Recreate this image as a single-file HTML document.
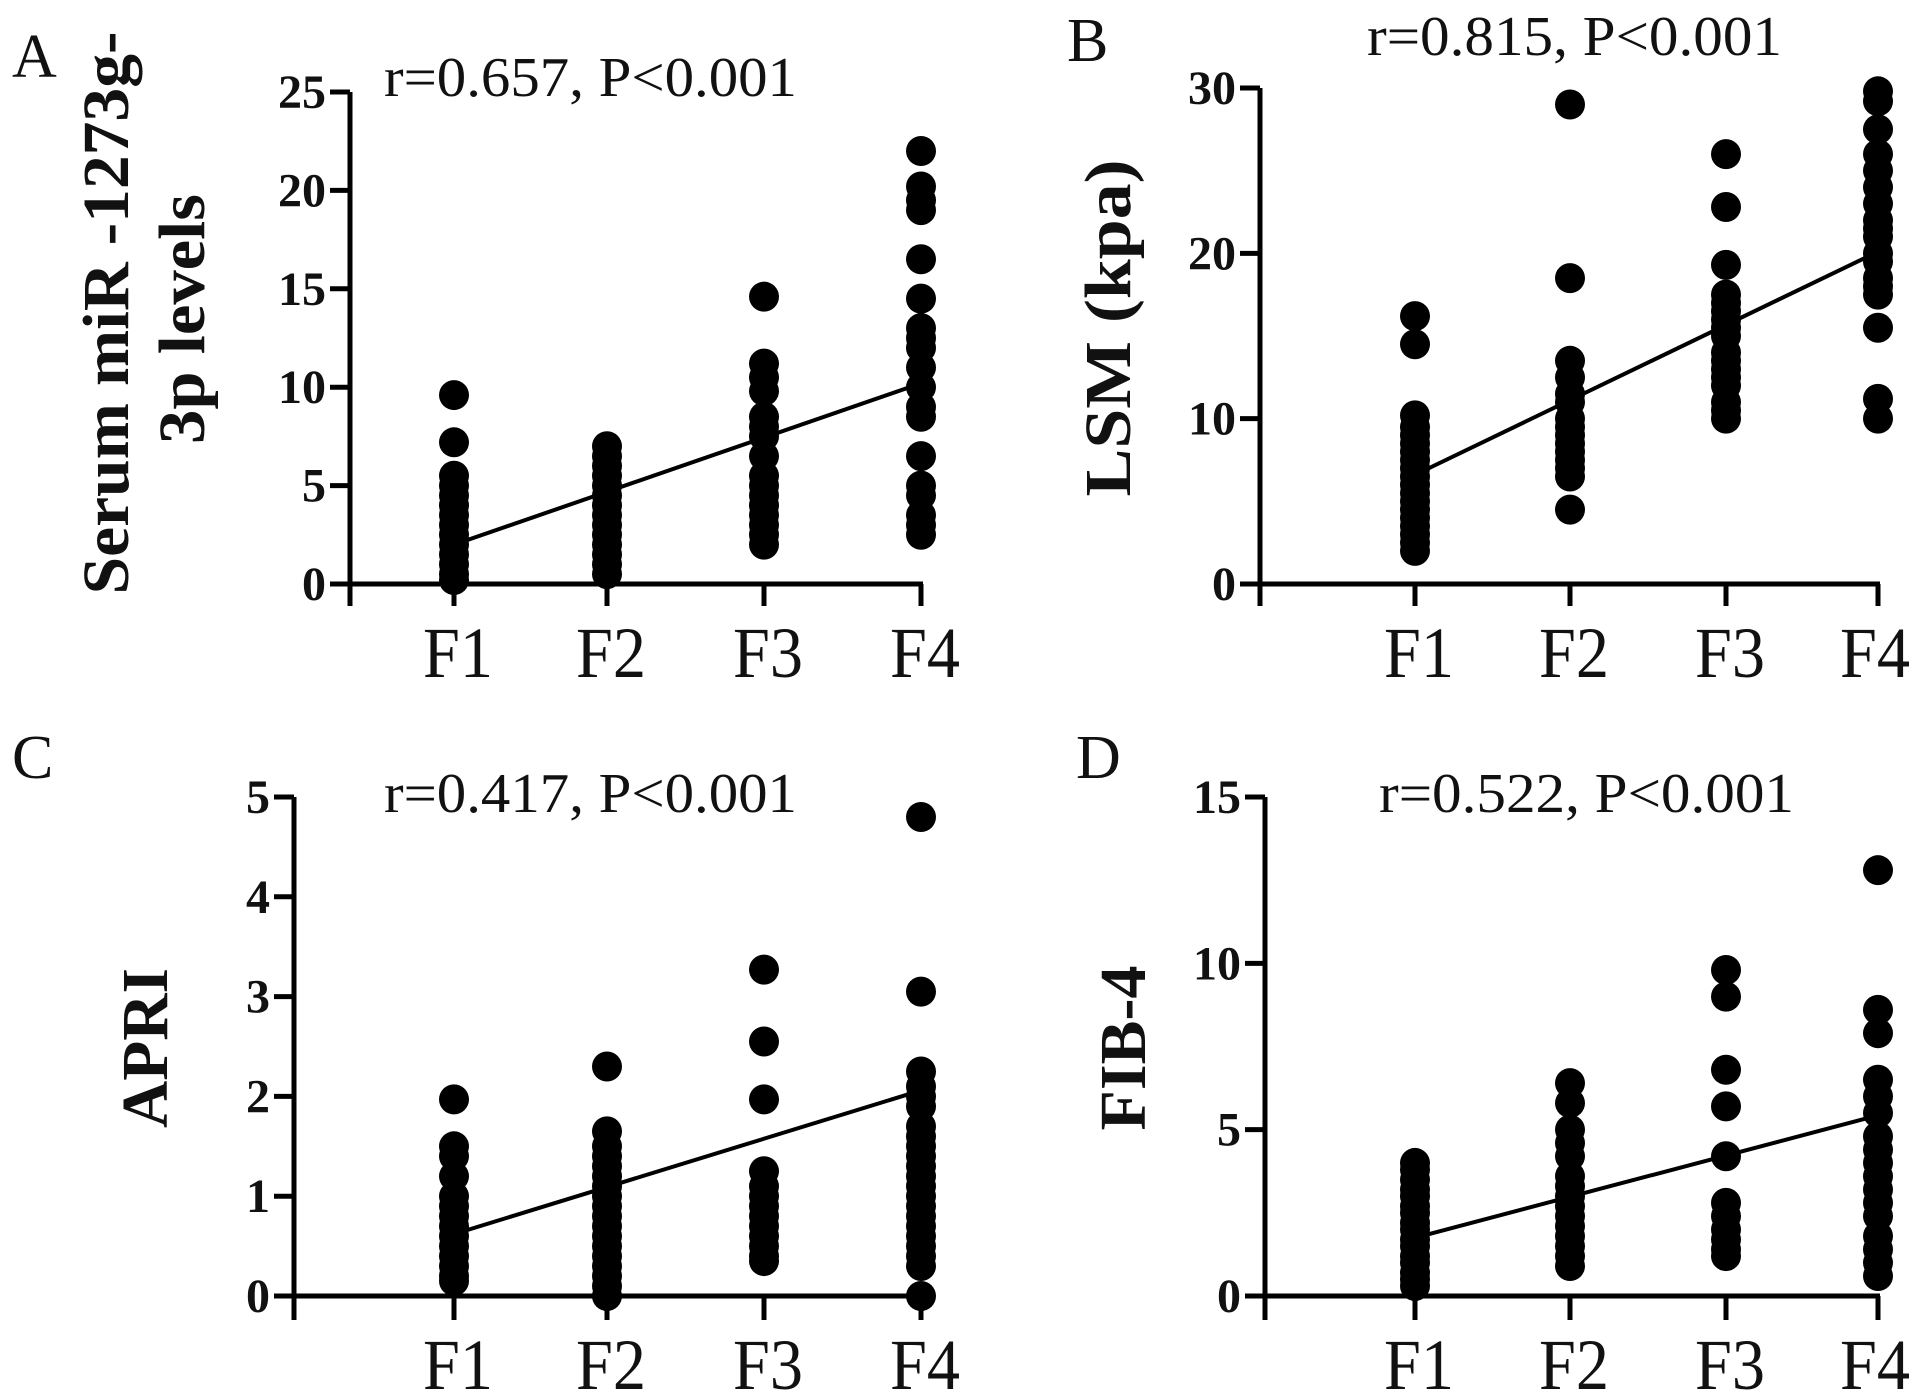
<!DOCTYPE html>
<html><head><meta charset="utf-8"><style>
html,body{margin:0;padding:0;background:#fff;overflow:hidden;}
svg{display:block;}
text{font-family:"Liberation Serif",serif;fill:#111;}
</style></head><body>
<svg id="fig" width="1913" height="1396" viewBox="0 0 1913 1396" xmlns="http://www.w3.org/2000/svg">
<rect width="1913" height="1396" fill="#fff"/>
</svg>
<script>
const categories = ["F1","F2","F3","F4"];
const ticksA = [0,5,10,15,20,25];
const ticksB = [0,10,20,30];
const ticksC = [0,1,2,3,4,5];
const ticksD = [0,5,10,15];
const seriesA = [
  [9.6,7.2,5.5,5.0,4.5,4.0,3.5,3.0,2.5,2.0,1.5,1.0,0.5,0.2],
  [7.0,6.5,6.0,5.5,5.0,4.5,4.0,3.5,3.0,2.5,2.0,1.5,1.0,0.5],
  [14.6,11.2,10.5,9.8,8.5,8.0,7.5,6.5,5.5,5.0,4.5,4.0,3.5,3.0,2.5,2.0],
  [22,20.2,19.5,19,16.5,14.5,13,12.5,12,11,10,9,8.5,6.5,5,4.5,3.5,3,2.5]
];
const seriesB = [
  [16.2,14.5,10.2,9.5,9,8.5,8,7.5,7,6.5,6,5.5,5,4.5,4,3.5,3,2.5,2],
  [29,18.5,13.5,12.5,11.5,11,10,9.5,9,8.5,8,7.5,7,6.5,4.5],
  [26,22.8,19.3,17.5,17,16.5,16,15.5,15,14,13.5,13,12.5,12,11,10.5,10],
  [29.8,29.2,27.5,26,25,24,23,22,21.5,21,20,19.5,18.5,18,17.5,15.5,11.2,10]
];
const seriesC = [
  [1.97,1.5,1.4,1.2,1.0,0.9,0.8,0.7,0.6,0.5,0.4,0.3,0.2,0.15],
  [2.3,1.65,1.5,1.4,1.3,1.2,1.1,1.0,0.9,0.8,0.7,0.6,0.5,0.4,0.3,0.2,0.1,0.0],
  [3.27,2.55,1.97,1.25,1.1,1.0,0.9,0.8,0.7,0.6,0.5,0.4,0.35],
  [4.8,3.05,2.25,2.1,2.0,1.9,1.7,1.6,1.5,1.4,1.3,1.2,1.1,1.0,0.9,0.8,0.7,0.6,0.5,0.4,0.3,0.0]
];
const seriesD = [
  [4.0,3.8,3.5,3.2,3.0,2.7,2.5,2.2,2.0,1.7,1.5,1.2,1.0,0.7,0.5,0.3],
  [6.4,5.8,5.0,4.6,4.2,3.6,3.3,3.0,2.7,2.4,2.1,1.8,1.5,1.2,0.9],
  [9.8,9.0,6.8,5.7,4.2,2.8,2.4,2.0,1.7,1.4,1.2],
  [12.8,8.6,7.9,6.5,6.0,5.5,4.8,4.4,4.0,3.6,3.2,2.8,2.4,1.8,1.4,1.0,0.6]
];
const fitA = [2.0,10.2];
const fitB = [6.6,20.1];
const fitC = [0.62,2.06];
const fitD = [1.75,5.43];

const NS = "http://www.w3.org/2000/svg";
const svg = document.getElementById("fig");
function mk(tag, attrs, parent, txt){
  const e = document.createElementNS(NS, tag);
  for (const k in attrs) e.setAttribute(k, attrs[k]);
  if (txt !== undefined) e.textContent = txt;
  (parent||svg).appendChild(e);
  return e;
}

function panel(cfg){
  const g = mk("g", {});
  
  
  const y0 = cfg.yBottom, y1 = cfg.yTop, vmax = cfg.ticks[cfg.ticks.length-1];
  const ys = v => y0 - (v / vmax) * (y0 - y1);
  const xs = i => cfg.catX[i];
  const ya = mk("line", {x1:cfg.axisX, y1:y1, x2:cfg.axisX, y2:cfg.tickBottom, stroke:"#000","stroke-width":5}, g);
  
  
  const xa = mk("line", {x1:cfg.axisX-20, y1:y0, x2:cfg.catX[3]+2, y2:y0, stroke:"#000","stroke-width":5}, g);
  
  
  cfg.ticks.forEach(t => {
    const y = ys(t);
    const tl = mk("line", {x1:cfg.axisX-20, y1:y, x2:cfg.axisX, y2:y, stroke:"#000","stroke-width":5}, g);
    
    
    const tx = mk("text", {x:cfg.axisX-24, y:y+16, "text-anchor":"end","font-size":48,"font-weight":"bold"}, g, String(t));
    
    
  });
  categories.forEach((c,i) => {
    const tk = mk("line", {x1:xs(i), y1:y0, x2:xs(i), y2:cfg.tickBottom, stroke:"#000","stroke-width":5}, g);
    
    
    const lx = Math.min(xs(i)+4, 1913-38);
    const lb = mk("text", {x:lx, y:cfg.labelBase, "text-anchor":"middle","font-size":72, textLength:70, lengthAdjust:"spacingAndGlyphs"}, g, c);
    
    
  });
  cfg.data.forEach((arr,i) => {
    arr.forEach(v => {
      const p = mk("circle", {cx:xs(i), cy:ys(v), r:15, fill:"#000"}, g);
      
      
    });
  });
  const fl = mk("line", {x1:xs(0), y1:ys(cfg.fit[0]), x2:xs(3), y2:ys(cfg.fit[1]), stroke:"#000","stroke-width":4}, g);
  
  
  const an = mk("text", {x:cfg.annX, y:cfg.annY, "font-size":56, textLength:cfg.annLen, lengthAdjust:"spacingAndGlyphs"}, g, cfg.ann);
  
  
  const pl = mk("text", {x:cfg.letterX, y:cfg.letterY, "font-size":62}, g, cfg.id);
  
  
  cfg.titles.forEach(tt => {
    const t = mk("text", {x:0, y:0, "text-anchor":"middle","font-size":tt.fs,"font-weight":"bold", transform:`translate(${tt.x},${tt.y}) rotate(-90)`}, g, tt.text);
    if (tt.len) { t.setAttribute("textLength", tt.len); t.setAttribute("lengthAdjust", "spacingAndGlyphs"); }
    
    
  });
}

panel({id:"A", axisX:350, yTop:92, yBottom:584, tickBottom:606, labelBase:677,
  catX:[454,607,764,921], ticks:ticksA, data:seriesA, fit:fitA,
  ann:"r=0.657, P<0.001", annX:384, annY:96, annLen:413, letterX:12, letterY:77,
  titles:[{text:"Serum miR -1273g-", x:128, y:313, fs:66, len:563},{text:"3p  levels", x:204, y:319, fs:66, len:250}]});
panel({id:"B", axisX:1260, yTop:88, yBottom:584, tickBottom:606, labelBase:677,
  catX:[1415,1570,1726,1878], ticks:ticksB, data:seriesB, fit:fitB,
  ann:"r=0.815, P<0.001", annX:1367, annY:55, annLen:415, letterX:1067, letterY:61,
  titles:[{text:"LSM (kpa)", x:1130, y:328, fs:66, len:337}]});
panel({id:"C", axisX:294, yTop:797, yBottom:1296, tickBottom:1320, labelBase:1389,
  catX:[454,607,764,921], ticks:ticksC, data:seriesC, fit:fitC,
  ann:"r=0.417, P<0.001", annX:384, annY:812, annLen:413, letterX:12, letterY:778,
  titles:[{text:"APRI", x:167, y:1048, fs:66, len:160}]});
panel({id:"D", axisX:1265, yTop:797, yBottom:1296, tickBottom:1320, labelBase:1389,
  catX:[1415,1570,1726,1878], ticks:ticksD, data:seriesD, fit:fitD,
  ann:"r=0.522, P<0.001", annX:1379, annY:812, annLen:415, letterX:1076, letterY:778,
  titles:[{text:"FIB-4", x:1145, y:1048, fs:66, len:165}]});
</script>
</body></html>
